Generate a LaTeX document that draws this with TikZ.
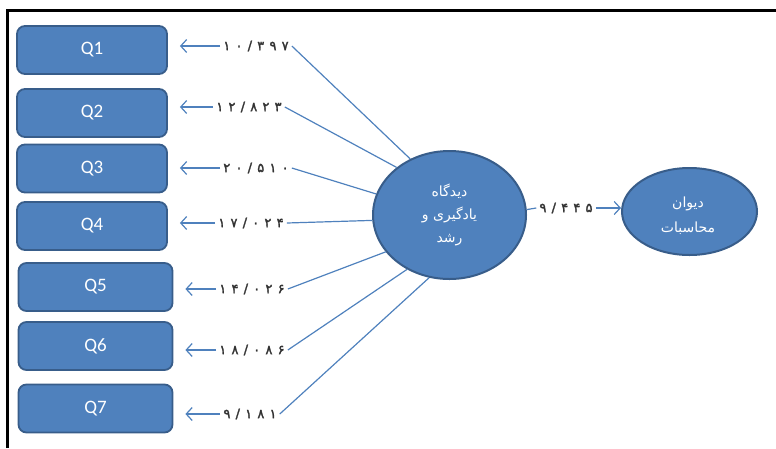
\documentclass[tikz,border=0pt]{standalone}
\usepackage{fontspec}
\setmainfont{Carlito}
\TeXXeTstate=1
\newfontfamily\arabicfont[Script=Arabic]{DejaVu Sans}
\newfontfamily\numfont[LetterSpace=40,FakeBold=2]{DejaVu Sans}
\usetikzlibrary{arrows.meta,shapes.geometric}
\definecolor{boxblue}{HTML}{4F81BD}
\definecolor{edgeblue}{HTML}{385D8A}
\begin{document}
\begin{tikzpicture}[x=1pt,y=-1pt,
  qbox/.style={draw=edgeblue, line width=1.8pt, fill=boxblue, rounded corners=8pt,
    minimum height=48pt, text=white, font=\fontsize{19}{20}\selectfont, inner sep=0pt},
  num/.style={font=\numfont\fontsize{13}{15}\selectfont, text=black!80, inner sep=3pt},
  link/.style={draw=boxblue, line width=1.2pt},
  arr/.style={link, -{Straight Barb[length=6pt,width=13pt]}, shorten >=12pt},
  latent/.style={ellipse, draw=edgeblue, line width=2pt, fill=boxblue, text=white,
    align=center, inner sep=0pt},
  ctext/.style={text=white, align=center, inner sep=0pt}]
\useasboundingbox (0,0) rectangle (776,448);
\draw[line width=3pt] (7,448) -- (7,10) -- (776,10);

\node[qbox, minimum width=150pt] (q1) at (92,50) {Q1};
\node[qbox, minimum width=150pt] (q2) at (92,113) {Q2};
\node[qbox, minimum width=150pt] (q3) at (92,168.5) {Q3};
\node[qbox, minimum width=150pt] (q4) at (92,226) {Q4};
\node[qbox, minimum width=154pt] (q5) at (95.5,287) {Q5};
\node[qbox, minimum width=154pt] (q6) at (95.5,346) {Q6};
\node[qbox, minimum width=154pt] (q7) at (95.5,408.5) {Q7};

\node[latent, minimum width=153pt, minimum height=128pt,
  font=\arabicfont\fontsize{14}{23}\selectfont] (c1) at (449.5,215)
  {\beginR دیدگاه\endR\\\beginR یادگیری و\endR\\\beginR رشد\endR};
\node[latent, minimum width=135pt, minimum height=87pt] (c2) at (689.5,211.5) {};
\node[ctext, font=\arabicfont\fontsize{14}{25}\selectfont] (t2) at (688,215.5)
  {\beginR دیوان\endR\\\beginR محاسبات\endR};

\node[num] (l1) at (256,46) {۱۰/۳۹۷};
\node[num] (l2) at (249,107) {۱۲/۸۲۳};
\node[num] (l3) at (256,168) {۲۰/۵۱۰};
\node[num] (l4) at (251,223) {۱۷/۰۲۴};
\node[num] (l5) at (252,289) {۱۴/۰۲۶};
\node[num] (l6) at (252,350) {۱۸/۰۸۶};
\node[num] (l7) at (250,414) {۹/۱۸۱};
\node[num] (l8) at (566,208) {۹/۴۴۵};

\foreach \i in {1,...,7}{
  \draw[arr] (l\i.west) -- (l\i.west -| q\i.east);
}
\draw[link] (l1.east) -- (c1.125);
\draw[link] (l2.east) -- (c1.138);
\draw[link] (l3.east) -- (c1.164);
\draw[link] (l4.east) -- (c1.184);
\draw[link] (l5.east) -- (c1.210);
\draw[link] (l6.east) -- (c1.232);
\draw[link] (l7.east) -- (c1.252);
\draw[link] (c1.4) -- (l8.west);
\draw[link, -{Straight Barb[length=6pt,width=13pt]}] (l8.east) -- (l8.east -| c2.west);
\end{tikzpicture}
\end{document}
